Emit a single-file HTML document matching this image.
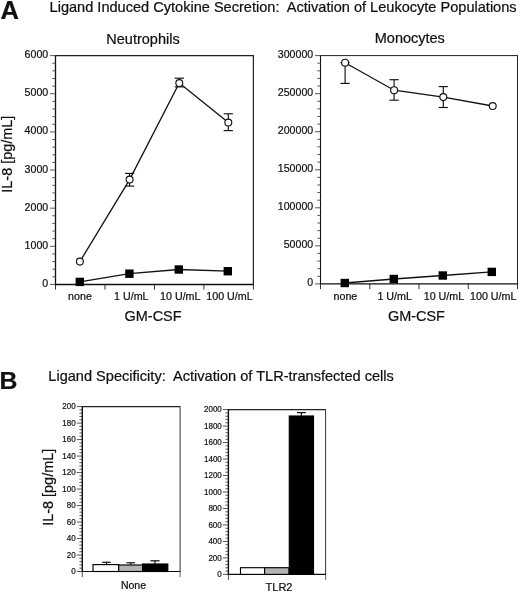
<!DOCTYPE html>
<html><head><meta charset="utf-8"><title>Figure</title>
<style>
html,body{margin:0;padding:0;background:#fff;}
body{width:520px;height:593px;overflow:hidden;}
svg{display:block;font-family:"Liberation Sans",sans-serif;fill:#111;}
text{stroke:#111;stroke-width:0.22px;}
</style></head><body>
<svg width="520" height="593" viewBox="0 0 520 593">
<rect x="0" y="0" width="520" height="593" fill="#fff" stroke="none"/>
<text x="0.5" y="18.6" font-size="25.5" text-anchor="start" font-weight="bold" stroke="#111" stroke-width="0.4">A</text>
<text x="49.6" y="11.8" font-size="14.5" text-anchor="start" font-weight="normal" style="white-space:pre" textLength="467" lengthAdjust="spacingAndGlyphs">Ligand Induced Cytokine Secretion:  Activation of Leukocyte Populations</text>
<text x="-0.6" y="388.7" font-size="24.8" text-anchor="start" font-weight="bold" stroke="#111" stroke-width="0.4">B</text>
<text x="48.3" y="381" font-size="14.5" text-anchor="start" font-weight="normal" style="white-space:pre" textLength="345.5" lengthAdjust="spacingAndGlyphs">Ligand Specificity:  Activation of TLR-transfected cells</text>
<line x1="55.5" y1="55.0" x2="55.5" y2="284.45" stroke="#111" stroke-width="1.3"/>
<line x1="253.4" y1="55.0" x2="253.4" y2="284.45" stroke="#222" stroke-width="1.2"/>
<line x1="55.5" y1="55.6" x2="253.4" y2="55.6" stroke="#222" stroke-width="1.2"/>
<line x1="50.0" y1="284.45" x2="55.5" y2="284.45" stroke="#444" stroke-width="0.9"/>
<text x="48.2" y="286.95" font-size="11.2" text-anchor="end" font-weight="normal"  textLength="5.9" lengthAdjust="spacingAndGlyphs">0</text>
<line x1="52.3" y1="276.82166666666666" x2="55.5" y2="276.82166666666666" stroke="#444" stroke-width="0.9"/>
<line x1="52.3" y1="269.1933333333333" x2="55.5" y2="269.1933333333333" stroke="#444" stroke-width="0.9"/>
<line x1="52.3" y1="261.565" x2="55.5" y2="261.565" stroke="#444" stroke-width="0.9"/>
<line x1="52.3" y1="253.93666666666667" x2="55.5" y2="253.93666666666667" stroke="#444" stroke-width="0.9"/>
<line x1="50.0" y1="246.30833333333334" x2="55.5" y2="246.30833333333334" stroke="#444" stroke-width="0.9"/>
<text x="48.2" y="248.80833333333334" font-size="11.2" text-anchor="end" font-weight="normal"  textLength="23.6" lengthAdjust="spacingAndGlyphs">1000</text>
<line x1="52.3" y1="238.68" x2="55.5" y2="238.68" stroke="#444" stroke-width="0.9"/>
<line x1="52.3" y1="231.05166666666668" x2="55.5" y2="231.05166666666668" stroke="#444" stroke-width="0.9"/>
<line x1="52.3" y1="223.42333333333335" x2="55.5" y2="223.42333333333335" stroke="#444" stroke-width="0.9"/>
<line x1="52.3" y1="215.79500000000002" x2="55.5" y2="215.79500000000002" stroke="#444" stroke-width="0.9"/>
<line x1="50.0" y1="208.16666666666666" x2="55.5" y2="208.16666666666666" stroke="#444" stroke-width="0.9"/>
<text x="48.2" y="210.66666666666666" font-size="11.2" text-anchor="end" font-weight="normal"  textLength="23.6" lengthAdjust="spacingAndGlyphs">2000</text>
<line x1="52.3" y1="200.53833333333333" x2="55.5" y2="200.53833333333333" stroke="#444" stroke-width="0.9"/>
<line x1="52.3" y1="192.91" x2="55.5" y2="192.91" stroke="#444" stroke-width="0.9"/>
<line x1="52.3" y1="185.28166666666667" x2="55.5" y2="185.28166666666667" stroke="#444" stroke-width="0.9"/>
<line x1="52.3" y1="177.65333333333334" x2="55.5" y2="177.65333333333334" stroke="#444" stroke-width="0.9"/>
<line x1="50.0" y1="170.02499999999998" x2="55.5" y2="170.02499999999998" stroke="#444" stroke-width="0.9"/>
<text x="48.2" y="172.52499999999998" font-size="11.2" text-anchor="end" font-weight="normal"  textLength="23.6" lengthAdjust="spacingAndGlyphs">3000</text>
<line x1="52.3" y1="162.39666666666665" x2="55.5" y2="162.39666666666665" stroke="#444" stroke-width="0.9"/>
<line x1="52.3" y1="154.76833333333332" x2="55.5" y2="154.76833333333332" stroke="#444" stroke-width="0.9"/>
<line x1="52.3" y1="147.14" x2="55.5" y2="147.14" stroke="#444" stroke-width="0.9"/>
<line x1="52.3" y1="139.51166666666666" x2="55.5" y2="139.51166666666666" stroke="#444" stroke-width="0.9"/>
<line x1="50.0" y1="131.88333333333333" x2="55.5" y2="131.88333333333333" stroke="#444" stroke-width="0.9"/>
<text x="48.2" y="134.38333333333333" font-size="11.2" text-anchor="end" font-weight="normal"  textLength="23.6" lengthAdjust="spacingAndGlyphs">4000</text>
<line x1="52.3" y1="124.255" x2="55.5" y2="124.255" stroke="#444" stroke-width="0.9"/>
<line x1="52.3" y1="116.62666666666667" x2="55.5" y2="116.62666666666667" stroke="#444" stroke-width="0.9"/>
<line x1="52.3" y1="108.99833333333333" x2="55.5" y2="108.99833333333333" stroke="#444" stroke-width="0.9"/>
<line x1="52.3" y1="101.36999999999999" x2="55.5" y2="101.36999999999999" stroke="#444" stroke-width="0.9"/>
<line x1="50.0" y1="93.74166666666667" x2="55.5" y2="93.74166666666667" stroke="#444" stroke-width="0.9"/>
<text x="48.2" y="96.24166666666667" font-size="11.2" text-anchor="end" font-weight="normal"  textLength="23.6" lengthAdjust="spacingAndGlyphs">5000</text>
<line x1="52.3" y1="86.11333333333334" x2="55.5" y2="86.11333333333334" stroke="#444" stroke-width="0.9"/>
<line x1="52.3" y1="78.48500000000001" x2="55.5" y2="78.48500000000001" stroke="#444" stroke-width="0.9"/>
<line x1="52.3" y1="70.85666666666668" x2="55.5" y2="70.85666666666668" stroke="#444" stroke-width="0.9"/>
<line x1="52.3" y1="63.22833333333334" x2="55.5" y2="63.22833333333334" stroke="#444" stroke-width="0.9"/>
<line x1="50.0" y1="55.599999999999994" x2="55.5" y2="55.599999999999994" stroke="#444" stroke-width="0.9"/>
<text x="48.2" y="58.099999999999994" font-size="11.2" text-anchor="end" font-weight="normal"  textLength="23.6" lengthAdjust="spacingAndGlyphs">6000</text>
<line x1="55.5" y1="284.45" x2="55.5" y2="289.65" stroke="#333" stroke-width="1"/>
<line x1="104.975" y1="284.45" x2="104.975" y2="289.65" stroke="#333" stroke-width="1"/>
<line x1="154.45" y1="284.45" x2="154.45" y2="289.65" stroke="#333" stroke-width="1"/>
<line x1="203.925" y1="284.45" x2="203.925" y2="289.65" stroke="#333" stroke-width="1"/>
<line x1="253.4" y1="284.45" x2="253.4" y2="289.65" stroke="#333" stroke-width="1"/>
<line x1="54.9" y1="284.45" x2="254.0" y2="284.45" stroke="#111" stroke-width="1.4"/>
<text x="79.9375" y="299.5" font-size="10.7" text-anchor="middle" font-weight="normal" >none</text>
<text x="131.31250000000003" y="299.5" font-size="10.7" text-anchor="middle" font-weight="normal" >1 U/mL</text>
<text x="180.28750000000002" y="299.5" font-size="10.7" text-anchor="middle" font-weight="normal" >10 U/mL</text>
<text x="229.4625" y="299.5" font-size="10.7" text-anchor="middle" font-weight="normal" >100 U/mL</text>
<polyline points="79.9,261.6 129.6,179.6 179.3,83 228.3,122.5" fill="none" stroke="#111" stroke-width="1.3"/>
<line x1="129.6" y1="173.4" x2="129.6" y2="186.1" stroke="#111" stroke-width="1.15"/>
<line x1="125.0" y1="173.4" x2="134.2" y2="173.4" stroke="#111" stroke-width="1.15"/>
<line x1="125.0" y1="186.1" x2="134.2" y2="186.1" stroke="#111" stroke-width="1.15"/>
<line x1="179.3" y1="78.2" x2="179.3" y2="86.9" stroke="#111" stroke-width="1.15"/>
<line x1="174.70000000000002" y1="78.2" x2="183.9" y2="78.2" stroke="#111" stroke-width="1.15"/>
<line x1="174.70000000000002" y1="86.9" x2="183.9" y2="86.9" stroke="#111" stroke-width="1.15"/>
<line x1="228.3" y1="113.8" x2="228.3" y2="130.6" stroke="#111" stroke-width="1.15"/>
<line x1="223.70000000000002" y1="113.8" x2="232.9" y2="113.8" stroke="#111" stroke-width="1.15"/>
<line x1="223.70000000000002" y1="130.6" x2="232.9" y2="130.6" stroke="#111" stroke-width="1.15"/>
<circle cx="79.9" cy="261.6" r="3.45" fill="#fff" stroke="#111" stroke-width="1.15"/>
<circle cx="129.6" cy="179.6" r="3.45" fill="#fff" stroke="#111" stroke-width="1.15"/>
<circle cx="179.3" cy="83" r="3.45" fill="#fff" stroke="#111" stroke-width="1.15"/>
<circle cx="228.3" cy="122.5" r="3.45" fill="#fff" stroke="#111" stroke-width="1.15"/>
<polyline points="79.8,281.9 129.4,273.7 178.8,269.5 227.8,271.2" fill="none" stroke="#111" stroke-width="1.3"/>
<rect x="75.6" y="277.7" width="8.4" height="8.4" fill="#000"/>
<rect x="125.2" y="269.5" width="8.4" height="8.4" fill="#000"/>
<rect x="174.60000000000002" y="265.3" width="8.4" height="8.4" fill="#000"/>
<rect x="223.60000000000002" y="267.0" width="8.4" height="8.4" fill="#000"/>
<text x="143" y="43.6" font-size="14.5" text-anchor="middle" font-weight="normal" >Neutrophils</text>
<text x="153.1" y="320.7" font-size="14.8" text-anchor="middle" font-weight="normal"  textLength="57" lengthAdjust="spacingAndGlyphs">GM-CSF</text>
<line x1="320.5" y1="55.1" x2="320.5" y2="283.9" stroke="#111" stroke-width="1.1"/>
<line x1="517.5" y1="55.1" x2="517.5" y2="283.9" stroke="#222" stroke-width="1.0"/>
<line x1="320.5" y1="55.6" x2="517.5" y2="55.6" stroke="#222" stroke-width="1.0"/>
<line x1="315.0" y1="283.9" x2="320.5" y2="283.9" stroke="#444" stroke-width="0.9"/>
<text x="313.2" y="286.4" font-size="11.2" text-anchor="end" font-weight="normal"  textLength="5.9" lengthAdjust="spacingAndGlyphs">0</text>
<line x1="317.3" y1="276.28999999999996" x2="320.5" y2="276.28999999999996" stroke="#444" stroke-width="0.9"/>
<line x1="317.3" y1="268.67999999999995" x2="320.5" y2="268.67999999999995" stroke="#444" stroke-width="0.9"/>
<line x1="317.3" y1="261.07" x2="320.5" y2="261.07" stroke="#444" stroke-width="0.9"/>
<line x1="317.3" y1="253.45999999999998" x2="320.5" y2="253.45999999999998" stroke="#444" stroke-width="0.9"/>
<line x1="315.0" y1="245.84999999999997" x2="320.5" y2="245.84999999999997" stroke="#444" stroke-width="0.9"/>
<text x="313.2" y="248.34999999999997" font-size="11.2" text-anchor="end" font-weight="normal"  textLength="29.5" lengthAdjust="spacingAndGlyphs">50000</text>
<line x1="317.3" y1="238.23999999999995" x2="320.5" y2="238.23999999999995" stroke="#444" stroke-width="0.9"/>
<line x1="317.3" y1="230.62999999999997" x2="320.5" y2="230.62999999999997" stroke="#444" stroke-width="0.9"/>
<line x1="317.3" y1="223.01999999999998" x2="320.5" y2="223.01999999999998" stroke="#444" stroke-width="0.9"/>
<line x1="317.3" y1="215.40999999999997" x2="320.5" y2="215.40999999999997" stroke="#444" stroke-width="0.9"/>
<line x1="315.0" y1="207.79999999999998" x2="320.5" y2="207.79999999999998" stroke="#444" stroke-width="0.9"/>
<text x="313.2" y="210.29999999999998" font-size="11.2" text-anchor="end" font-weight="normal"  textLength="35.4" lengthAdjust="spacingAndGlyphs">100000</text>
<line x1="317.3" y1="200.19" x2="320.5" y2="200.19" stroke="#444" stroke-width="0.9"/>
<line x1="317.3" y1="192.57999999999998" x2="320.5" y2="192.57999999999998" stroke="#444" stroke-width="0.9"/>
<line x1="317.3" y1="184.96999999999997" x2="320.5" y2="184.96999999999997" stroke="#444" stroke-width="0.9"/>
<line x1="317.3" y1="177.35999999999999" x2="320.5" y2="177.35999999999999" stroke="#444" stroke-width="0.9"/>
<line x1="315.0" y1="169.75" x2="320.5" y2="169.75" stroke="#444" stroke-width="0.9"/>
<text x="313.2" y="172.25" font-size="11.2" text-anchor="end" font-weight="normal"  textLength="35.4" lengthAdjust="spacingAndGlyphs">150000</text>
<line x1="317.3" y1="162.14" x2="320.5" y2="162.14" stroke="#444" stroke-width="0.9"/>
<line x1="317.3" y1="154.53" x2="320.5" y2="154.53" stroke="#444" stroke-width="0.9"/>
<line x1="317.3" y1="146.92000000000002" x2="320.5" y2="146.92000000000002" stroke="#444" stroke-width="0.9"/>
<line x1="317.3" y1="139.31" x2="320.5" y2="139.31" stroke="#444" stroke-width="0.9"/>
<line x1="315.0" y1="131.7" x2="320.5" y2="131.7" stroke="#444" stroke-width="0.9"/>
<text x="313.2" y="134.2" font-size="11.2" text-anchor="end" font-weight="normal"  textLength="35.4" lengthAdjust="spacingAndGlyphs">200000</text>
<line x1="317.3" y1="124.08999999999999" x2="320.5" y2="124.08999999999999" stroke="#444" stroke-width="0.9"/>
<line x1="317.3" y1="116.47999999999999" x2="320.5" y2="116.47999999999999" stroke="#444" stroke-width="0.9"/>
<line x1="317.3" y1="108.86999999999999" x2="320.5" y2="108.86999999999999" stroke="#444" stroke-width="0.9"/>
<line x1="317.3" y1="101.25999999999999" x2="320.5" y2="101.25999999999999" stroke="#444" stroke-width="0.9"/>
<line x1="315.0" y1="93.64999999999998" x2="320.5" y2="93.64999999999998" stroke="#444" stroke-width="0.9"/>
<text x="313.2" y="96.14999999999998" font-size="11.2" text-anchor="end" font-weight="normal"  textLength="35.4" lengthAdjust="spacingAndGlyphs">250000</text>
<line x1="317.3" y1="86.03999999999998" x2="320.5" y2="86.03999999999998" stroke="#444" stroke-width="0.9"/>
<line x1="317.3" y1="78.42999999999998" x2="320.5" y2="78.42999999999998" stroke="#444" stroke-width="0.9"/>
<line x1="317.3" y1="70.81999999999998" x2="320.5" y2="70.81999999999998" stroke="#444" stroke-width="0.9"/>
<line x1="317.3" y1="63.20999999999998" x2="320.5" y2="63.20999999999998" stroke="#444" stroke-width="0.9"/>
<line x1="315.0" y1="55.599999999999994" x2="320.5" y2="55.599999999999994" stroke="#444" stroke-width="0.9"/>
<text x="313.2" y="58.099999999999994" font-size="11.2" text-anchor="end" font-weight="normal"  textLength="35.4" lengthAdjust="spacingAndGlyphs">300000</text>
<line x1="320.5" y1="283.9" x2="320.5" y2="289.09999999999997" stroke="#333" stroke-width="1"/>
<line x1="369.75" y1="283.9" x2="369.75" y2="289.09999999999997" stroke="#333" stroke-width="1"/>
<line x1="419.0" y1="283.9" x2="419.0" y2="289.09999999999997" stroke="#333" stroke-width="1"/>
<line x1="468.25" y1="283.9" x2="468.25" y2="289.09999999999997" stroke="#333" stroke-width="1"/>
<line x1="517.5" y1="283.9" x2="517.5" y2="289.09999999999997" stroke="#333" stroke-width="1"/>
<line x1="319.9" y1="283.9" x2="518.1" y2="283.9" stroke="#111" stroke-width="1.4"/>
<text x="345.425" y="299.5" font-size="10.7" text-anchor="middle" font-weight="normal" >none</text>
<text x="394.675" y="299.5" font-size="10.7" text-anchor="middle" font-weight="normal" >1 U/mL</text>
<text x="443.925" y="299.5" font-size="10.7" text-anchor="middle" font-weight="normal" >10 U/mL</text>
<text x="493.175" y="299.5" font-size="10.7" text-anchor="middle" font-weight="normal" >100 U/mL</text>
<polyline points="345.1,62.7 394.1,90.2 443.3,97.1 492.7,106" fill="none" stroke="#111" stroke-width="1.3"/>
<line x1="345.1" y1="62.7" x2="345.1" y2="83.4" stroke="#111" stroke-width="1.15"/>
<line x1="340.5" y1="62.7" x2="349.70000000000005" y2="62.7" stroke="#111" stroke-width="1.15"/>
<line x1="340.5" y1="83.4" x2="349.70000000000005" y2="83.4" stroke="#111" stroke-width="1.15"/>
<line x1="394.1" y1="79.7" x2="394.1" y2="100.2" stroke="#111" stroke-width="1.15"/>
<line x1="389.5" y1="79.7" x2="398.70000000000005" y2="79.7" stroke="#111" stroke-width="1.15"/>
<line x1="389.5" y1="100.2" x2="398.70000000000005" y2="100.2" stroke="#111" stroke-width="1.15"/>
<line x1="443.3" y1="86.6" x2="443.3" y2="107.5" stroke="#111" stroke-width="1.15"/>
<line x1="438.7" y1="86.6" x2="447.90000000000003" y2="86.6" stroke="#111" stroke-width="1.15"/>
<line x1="438.7" y1="107.5" x2="447.90000000000003" y2="107.5" stroke="#111" stroke-width="1.15"/>
<circle cx="345.1" cy="62.7" r="3.45" fill="#fff" stroke="#111" stroke-width="1.15"/>
<circle cx="394.1" cy="90.2" r="3.45" fill="#fff" stroke="#111" stroke-width="1.15"/>
<circle cx="443.3" cy="97.1" r="3.45" fill="#fff" stroke="#111" stroke-width="1.15"/>
<circle cx="492.7" cy="106" r="3.45" fill="#fff" stroke="#111" stroke-width="1.15"/>
<polyline points="344.8,283 393.8,279 442.8,275.5 491.8,271.9" fill="none" stroke="#111" stroke-width="1.3"/>
<rect x="340.6" y="278.8" width="8.4" height="8.4" fill="#000"/>
<rect x="389.6" y="274.8" width="8.4" height="8.4" fill="#000"/>
<rect x="438.6" y="271.3" width="8.4" height="8.4" fill="#000"/>
<rect x="487.6" y="267.7" width="8.4" height="8.4" fill="#000"/>
<text x="409.8" y="43.4" font-size="14.5" text-anchor="middle" font-weight="normal" >Monocytes</text>
<text x="416.4" y="320.5" font-size="14.8" text-anchor="middle" font-weight="normal"  textLength="57" lengthAdjust="spacingAndGlyphs">GM-CSF</text>
<text transform="translate(11.5,154.2) rotate(-90)" font-size="14.8" text-anchor="middle" textLength="77" lengthAdjust="spacingAndGlyphs">IL-8 [pg/mL]</text>
<line x1="82.3" y1="406.6" x2="180.1" y2="406.6" stroke="#222" stroke-width="1.1"/>
<line x1="180.1" y1="406.1" x2="180.1" y2="571.5" stroke="#333" stroke-width="1.0"/>
<line x1="76.8" y1="571.5" x2="82.3" y2="571.5" stroke="#444" stroke-width="0.9"/>
<text x="75.7" y="574.1" font-size="9" text-anchor="end" font-weight="normal"  textLength="4.5" lengthAdjust="spacingAndGlyphs">0</text>
<line x1="79.39999999999999" y1="568.202" x2="82.3" y2="568.202" stroke="#333" stroke-width="0.8"/>
<line x1="79.39999999999999" y1="564.904" x2="82.3" y2="564.904" stroke="#333" stroke-width="0.8"/>
<line x1="79.39999999999999" y1="561.606" x2="82.3" y2="561.606" stroke="#333" stroke-width="0.8"/>
<line x1="79.39999999999999" y1="558.308" x2="82.3" y2="558.308" stroke="#333" stroke-width="0.8"/>
<line x1="76.8" y1="555.01" x2="82.3" y2="555.01" stroke="#444" stroke-width="0.9"/>
<text x="75.7" y="557.61" font-size="9" text-anchor="end" font-weight="normal"  textLength="8.9" lengthAdjust="spacingAndGlyphs">20</text>
<line x1="79.39999999999999" y1="551.712" x2="82.3" y2="551.712" stroke="#333" stroke-width="0.8"/>
<line x1="79.39999999999999" y1="548.414" x2="82.3" y2="548.414" stroke="#333" stroke-width="0.8"/>
<line x1="79.39999999999999" y1="545.116" x2="82.3" y2="545.116" stroke="#333" stroke-width="0.8"/>
<line x1="79.39999999999999" y1="541.818" x2="82.3" y2="541.818" stroke="#333" stroke-width="0.8"/>
<line x1="76.8" y1="538.52" x2="82.3" y2="538.52" stroke="#444" stroke-width="0.9"/>
<text x="75.7" y="541.12" font-size="9" text-anchor="end" font-weight="normal"  textLength="8.9" lengthAdjust="spacingAndGlyphs">40</text>
<line x1="79.39999999999999" y1="535.222" x2="82.3" y2="535.222" stroke="#333" stroke-width="0.8"/>
<line x1="79.39999999999999" y1="531.924" x2="82.3" y2="531.924" stroke="#333" stroke-width="0.8"/>
<line x1="79.39999999999999" y1="528.626" x2="82.3" y2="528.626" stroke="#333" stroke-width="0.8"/>
<line x1="79.39999999999999" y1="525.328" x2="82.3" y2="525.328" stroke="#333" stroke-width="0.8"/>
<line x1="76.8" y1="522.03" x2="82.3" y2="522.03" stroke="#444" stroke-width="0.9"/>
<text x="75.7" y="524.63" font-size="9" text-anchor="end" font-weight="normal"  textLength="8.9" lengthAdjust="spacingAndGlyphs">60</text>
<line x1="79.39999999999999" y1="518.732" x2="82.3" y2="518.732" stroke="#333" stroke-width="0.8"/>
<line x1="79.39999999999999" y1="515.434" x2="82.3" y2="515.434" stroke="#333" stroke-width="0.8"/>
<line x1="79.39999999999999" y1="512.136" x2="82.3" y2="512.136" stroke="#333" stroke-width="0.8"/>
<line x1="79.39999999999999" y1="508.83799999999997" x2="82.3" y2="508.83799999999997" stroke="#333" stroke-width="0.8"/>
<line x1="76.8" y1="505.54" x2="82.3" y2="505.54" stroke="#444" stroke-width="0.9"/>
<text x="75.7" y="508.14000000000004" font-size="9" text-anchor="end" font-weight="normal"  textLength="8.9" lengthAdjust="spacingAndGlyphs">80</text>
<line x1="79.39999999999999" y1="502.242" x2="82.3" y2="502.242" stroke="#333" stroke-width="0.8"/>
<line x1="79.39999999999999" y1="498.944" x2="82.3" y2="498.944" stroke="#333" stroke-width="0.8"/>
<line x1="79.39999999999999" y1="495.646" x2="82.3" y2="495.646" stroke="#333" stroke-width="0.8"/>
<line x1="79.39999999999999" y1="492.348" x2="82.3" y2="492.348" stroke="#333" stroke-width="0.8"/>
<line x1="76.8" y1="489.05" x2="82.3" y2="489.05" stroke="#444" stroke-width="0.9"/>
<text x="75.7" y="491.65000000000003" font-size="9" text-anchor="end" font-weight="normal"  textLength="13.4" lengthAdjust="spacingAndGlyphs">100</text>
<line x1="79.39999999999999" y1="485.752" x2="82.3" y2="485.752" stroke="#333" stroke-width="0.8"/>
<line x1="79.39999999999999" y1="482.454" x2="82.3" y2="482.454" stroke="#333" stroke-width="0.8"/>
<line x1="79.39999999999999" y1="479.156" x2="82.3" y2="479.156" stroke="#333" stroke-width="0.8"/>
<line x1="79.39999999999999" y1="475.858" x2="82.3" y2="475.858" stroke="#333" stroke-width="0.8"/>
<line x1="76.8" y1="472.56" x2="82.3" y2="472.56" stroke="#444" stroke-width="0.9"/>
<text x="75.7" y="475.16" font-size="9" text-anchor="end" font-weight="normal"  textLength="13.4" lengthAdjust="spacingAndGlyphs">120</text>
<line x1="79.39999999999999" y1="469.262" x2="82.3" y2="469.262" stroke="#333" stroke-width="0.8"/>
<line x1="79.39999999999999" y1="465.964" x2="82.3" y2="465.964" stroke="#333" stroke-width="0.8"/>
<line x1="79.39999999999999" y1="462.666" x2="82.3" y2="462.666" stroke="#333" stroke-width="0.8"/>
<line x1="79.39999999999999" y1="459.368" x2="82.3" y2="459.368" stroke="#333" stroke-width="0.8"/>
<line x1="76.8" y1="456.07" x2="82.3" y2="456.07" stroke="#444" stroke-width="0.9"/>
<text x="75.7" y="458.67" font-size="9" text-anchor="end" font-weight="normal"  textLength="13.4" lengthAdjust="spacingAndGlyphs">140</text>
<line x1="79.39999999999999" y1="452.772" x2="82.3" y2="452.772" stroke="#333" stroke-width="0.8"/>
<line x1="79.39999999999999" y1="449.474" x2="82.3" y2="449.474" stroke="#333" stroke-width="0.8"/>
<line x1="79.39999999999999" y1="446.176" x2="82.3" y2="446.176" stroke="#333" stroke-width="0.8"/>
<line x1="79.39999999999999" y1="442.878" x2="82.3" y2="442.878" stroke="#333" stroke-width="0.8"/>
<line x1="76.8" y1="439.58000000000004" x2="82.3" y2="439.58000000000004" stroke="#444" stroke-width="0.9"/>
<text x="75.7" y="442.18000000000006" font-size="9" text-anchor="end" font-weight="normal"  textLength="13.4" lengthAdjust="spacingAndGlyphs">160</text>
<line x1="79.39999999999999" y1="436.28200000000004" x2="82.3" y2="436.28200000000004" stroke="#333" stroke-width="0.8"/>
<line x1="79.39999999999999" y1="432.98400000000004" x2="82.3" y2="432.98400000000004" stroke="#333" stroke-width="0.8"/>
<line x1="79.39999999999999" y1="429.68600000000004" x2="82.3" y2="429.68600000000004" stroke="#333" stroke-width="0.8"/>
<line x1="79.39999999999999" y1="426.38800000000003" x2="82.3" y2="426.38800000000003" stroke="#333" stroke-width="0.8"/>
<line x1="76.8" y1="423.09000000000003" x2="82.3" y2="423.09000000000003" stroke="#444" stroke-width="0.9"/>
<text x="75.7" y="425.69000000000005" font-size="9" text-anchor="end" font-weight="normal"  textLength="13.4" lengthAdjust="spacingAndGlyphs">180</text>
<line x1="79.39999999999999" y1="419.79200000000003" x2="82.3" y2="419.79200000000003" stroke="#333" stroke-width="0.8"/>
<line x1="79.39999999999999" y1="416.494" x2="82.3" y2="416.494" stroke="#333" stroke-width="0.8"/>
<line x1="79.39999999999999" y1="413.196" x2="82.3" y2="413.196" stroke="#333" stroke-width="0.8"/>
<line x1="79.39999999999999" y1="409.898" x2="82.3" y2="409.898" stroke="#333" stroke-width="0.8"/>
<line x1="76.8" y1="406.6" x2="82.3" y2="406.6" stroke="#444" stroke-width="0.9"/>
<text x="75.7" y="409.20000000000005" font-size="9" text-anchor="end" font-weight="normal"  textLength="13.4" lengthAdjust="spacingAndGlyphs">200</text>
<line x1="82.3" y1="406.1" x2="82.3" y2="571.5" stroke="#111" stroke-width="1.4"/>
<line x1="82.3" y1="571.5" x2="82.3" y2="577.1" stroke="#555" stroke-width="1.0"/>
<line x1="180.1" y1="571.5" x2="180.1" y2="577.1" stroke="#555" stroke-width="0.9"/>
<line x1="81.6" y1="571.5" x2="180.5" y2="571.5" stroke="#111" stroke-width="1.2"/>
<rect x="93" y="564.6" width="25.700000000000003" height="6.899999999999977" fill="#fff" stroke="#000" stroke-width="1.15"/>
<rect x="118.7" y="565" width="23.89999999999999" height="6.5" fill="#b4b4b4" stroke="#000" stroke-width="1.15"/>
<rect x="142.6" y="564" width="25.200000000000017" height="7.5" fill="#000" stroke="#000" stroke-width="1.15"/>
<line x1="106.5" y1="562.3" x2="106.5" y2="564.6" stroke="#111" stroke-width="1.15"/>
<line x1="102.2" y1="562.3" x2="110.8" y2="562.3" stroke="#111" stroke-width="1.2"/>
<line x1="130.8" y1="562.8" x2="130.8" y2="565" stroke="#111" stroke-width="1.15"/>
<line x1="126.50000000000001" y1="562.8" x2="135.10000000000002" y2="562.8" stroke="#111" stroke-width="1.2"/>
<line x1="155" y1="560.8" x2="155" y2="564" stroke="#111" stroke-width="1.15"/>
<line x1="150.4" y1="560.8" x2="159.6" y2="560.8" stroke="#111" stroke-width="1.2"/>
<text x="133.5" y="589.4" font-size="10.5" text-anchor="middle" font-weight="normal" >None</text>
<line x1="228.4" y1="409.6" x2="325.6" y2="409.6" stroke="#222" stroke-width="1.1"/>
<line x1="325.6" y1="409.1" x2="325.6" y2="574.4" stroke="#333" stroke-width="1.0"/>
<line x1="222.9" y1="574.4" x2="228.4" y2="574.4" stroke="#444" stroke-width="0.9"/>
<text x="221.8" y="577.0" font-size="9" text-anchor="end" font-weight="normal"  textLength="4.5" lengthAdjust="spacingAndGlyphs">0</text>
<line x1="225.5" y1="571.1039999999999" x2="228.4" y2="571.1039999999999" stroke="#333" stroke-width="0.8"/>
<line x1="225.5" y1="567.808" x2="228.4" y2="567.808" stroke="#333" stroke-width="0.8"/>
<line x1="225.5" y1="564.512" x2="228.4" y2="564.512" stroke="#333" stroke-width="0.8"/>
<line x1="225.5" y1="561.216" x2="228.4" y2="561.216" stroke="#333" stroke-width="0.8"/>
<line x1="222.9" y1="557.92" x2="228.4" y2="557.92" stroke="#444" stroke-width="0.9"/>
<text x="221.8" y="560.52" font-size="9" text-anchor="end" font-weight="normal"  textLength="13.4" lengthAdjust="spacingAndGlyphs">200</text>
<line x1="225.5" y1="554.6239999999999" x2="228.4" y2="554.6239999999999" stroke="#333" stroke-width="0.8"/>
<line x1="225.5" y1="551.328" x2="228.4" y2="551.328" stroke="#333" stroke-width="0.8"/>
<line x1="225.5" y1="548.0319999999999" x2="228.4" y2="548.0319999999999" stroke="#333" stroke-width="0.8"/>
<line x1="225.5" y1="544.736" x2="228.4" y2="544.736" stroke="#333" stroke-width="0.8"/>
<line x1="222.9" y1="541.4399999999999" x2="228.4" y2="541.4399999999999" stroke="#444" stroke-width="0.9"/>
<text x="221.8" y="544.04" font-size="9" text-anchor="end" font-weight="normal"  textLength="13.4" lengthAdjust="spacingAndGlyphs">400</text>
<line x1="225.5" y1="538.1439999999999" x2="228.4" y2="538.1439999999999" stroke="#333" stroke-width="0.8"/>
<line x1="225.5" y1="534.848" x2="228.4" y2="534.848" stroke="#333" stroke-width="0.8"/>
<line x1="225.5" y1="531.5519999999999" x2="228.4" y2="531.5519999999999" stroke="#333" stroke-width="0.8"/>
<line x1="225.5" y1="528.256" x2="228.4" y2="528.256" stroke="#333" stroke-width="0.8"/>
<line x1="222.9" y1="524.96" x2="228.4" y2="524.96" stroke="#444" stroke-width="0.9"/>
<text x="221.8" y="527.5600000000001" font-size="9" text-anchor="end" font-weight="normal"  textLength="13.4" lengthAdjust="spacingAndGlyphs">600</text>
<line x1="225.5" y1="521.664" x2="228.4" y2="521.664" stroke="#333" stroke-width="0.8"/>
<line x1="225.5" y1="518.368" x2="228.4" y2="518.368" stroke="#333" stroke-width="0.8"/>
<line x1="225.5" y1="515.072" x2="228.4" y2="515.072" stroke="#333" stroke-width="0.8"/>
<line x1="225.5" y1="511.77600000000007" x2="228.4" y2="511.77600000000007" stroke="#333" stroke-width="0.8"/>
<line x1="222.9" y1="508.48" x2="228.4" y2="508.48" stroke="#444" stroke-width="0.9"/>
<text x="221.8" y="511.08000000000004" font-size="9" text-anchor="end" font-weight="normal"  textLength="13.4" lengthAdjust="spacingAndGlyphs">800</text>
<line x1="225.5" y1="505.184" x2="228.4" y2="505.184" stroke="#333" stroke-width="0.8"/>
<line x1="225.5" y1="501.88800000000003" x2="228.4" y2="501.88800000000003" stroke="#333" stroke-width="0.8"/>
<line x1="225.5" y1="498.59200000000004" x2="228.4" y2="498.59200000000004" stroke="#333" stroke-width="0.8"/>
<line x1="225.5" y1="495.29600000000005" x2="228.4" y2="495.29600000000005" stroke="#333" stroke-width="0.8"/>
<line x1="222.9" y1="492.0" x2="228.4" y2="492.0" stroke="#444" stroke-width="0.9"/>
<text x="221.8" y="494.6" font-size="9" text-anchor="end" font-weight="normal"  textLength="17.8" lengthAdjust="spacingAndGlyphs">1000</text>
<line x1="225.5" y1="488.704" x2="228.4" y2="488.704" stroke="#333" stroke-width="0.8"/>
<line x1="225.5" y1="485.408" x2="228.4" y2="485.408" stroke="#333" stroke-width="0.8"/>
<line x1="225.5" y1="482.112" x2="228.4" y2="482.112" stroke="#333" stroke-width="0.8"/>
<line x1="225.5" y1="478.81600000000003" x2="228.4" y2="478.81600000000003" stroke="#333" stroke-width="0.8"/>
<line x1="222.9" y1="475.52" x2="228.4" y2="475.52" stroke="#444" stroke-width="0.9"/>
<text x="221.8" y="478.12" font-size="9" text-anchor="end" font-weight="normal"  textLength="17.8" lengthAdjust="spacingAndGlyphs">1200</text>
<line x1="225.5" y1="472.224" x2="228.4" y2="472.224" stroke="#333" stroke-width="0.8"/>
<line x1="225.5" y1="468.928" x2="228.4" y2="468.928" stroke="#333" stroke-width="0.8"/>
<line x1="225.5" y1="465.632" x2="228.4" y2="465.632" stroke="#333" stroke-width="0.8"/>
<line x1="225.5" y1="462.336" x2="228.4" y2="462.336" stroke="#333" stroke-width="0.8"/>
<line x1="222.9" y1="459.03999999999996" x2="228.4" y2="459.03999999999996" stroke="#444" stroke-width="0.9"/>
<text x="221.8" y="461.64" font-size="9" text-anchor="end" font-weight="normal"  textLength="17.8" lengthAdjust="spacingAndGlyphs">1400</text>
<line x1="225.5" y1="455.74399999999997" x2="228.4" y2="455.74399999999997" stroke="#333" stroke-width="0.8"/>
<line x1="225.5" y1="452.448" x2="228.4" y2="452.448" stroke="#333" stroke-width="0.8"/>
<line x1="225.5" y1="449.152" x2="228.4" y2="449.152" stroke="#333" stroke-width="0.8"/>
<line x1="225.5" y1="445.856" x2="228.4" y2="445.856" stroke="#333" stroke-width="0.8"/>
<line x1="222.9" y1="442.56" x2="228.4" y2="442.56" stroke="#444" stroke-width="0.9"/>
<text x="221.8" y="445.16" font-size="9" text-anchor="end" font-weight="normal"  textLength="17.8" lengthAdjust="spacingAndGlyphs">1600</text>
<line x1="225.5" y1="439.264" x2="228.4" y2="439.264" stroke="#333" stroke-width="0.8"/>
<line x1="225.5" y1="435.968" x2="228.4" y2="435.968" stroke="#333" stroke-width="0.8"/>
<line x1="225.5" y1="432.672" x2="228.4" y2="432.672" stroke="#333" stroke-width="0.8"/>
<line x1="225.5" y1="429.376" x2="228.4" y2="429.376" stroke="#333" stroke-width="0.8"/>
<line x1="222.9" y1="426.08000000000004" x2="228.4" y2="426.08000000000004" stroke="#444" stroke-width="0.9"/>
<text x="221.8" y="428.68000000000006" font-size="9" text-anchor="end" font-weight="normal"  textLength="17.8" lengthAdjust="spacingAndGlyphs">1800</text>
<line x1="225.5" y1="422.78400000000005" x2="228.4" y2="422.78400000000005" stroke="#333" stroke-width="0.8"/>
<line x1="225.5" y1="419.48800000000006" x2="228.4" y2="419.48800000000006" stroke="#333" stroke-width="0.8"/>
<line x1="225.5" y1="416.19200000000006" x2="228.4" y2="416.19200000000006" stroke="#333" stroke-width="0.8"/>
<line x1="225.5" y1="412.8960000000001" x2="228.4" y2="412.8960000000001" stroke="#333" stroke-width="0.8"/>
<line x1="222.9" y1="409.6" x2="228.4" y2="409.6" stroke="#444" stroke-width="0.9"/>
<text x="221.8" y="412.20000000000005" font-size="9" text-anchor="end" font-weight="normal"  textLength="17.8" lengthAdjust="spacingAndGlyphs">2000</text>
<line x1="228.4" y1="409.1" x2="228.4" y2="574.4" stroke="#111" stroke-width="1.4"/>
<line x1="228.4" y1="574.4" x2="228.4" y2="580.0" stroke="#555" stroke-width="1.0"/>
<line x1="325.6" y1="574.4" x2="325.6" y2="580.0" stroke="#555" stroke-width="0.9"/>
<line x1="227.70000000000002" y1="574.4" x2="326.0" y2="574.4" stroke="#111" stroke-width="1.2"/>
<rect x="240.5" y="567.7" width="24.100000000000023" height="6.699999999999932" fill="#fff" stroke="#000" stroke-width="1.15"/>
<rect x="264.6" y="567.7" width="24.399999999999977" height="6.699999999999932" fill="#b4b4b4" stroke="#000" stroke-width="1.15"/>
<rect x="289.3" y="416" width="24.19999999999999" height="158.39999999999998" fill="#000" stroke="#000" stroke-width="1.15"/>
<line x1="301.4" y1="412.6" x2="301.4" y2="416" stroke="#111" stroke-width="1.15"/>
<line x1="297.0" y1="412.6" x2="305.79999999999995" y2="412.6" stroke="#111" stroke-width="1.2"/>
<text x="279" y="591" font-size="11" text-anchor="middle" font-weight="normal" >TLR2</text>
<text transform="translate(53.3,487.3) rotate(-90)" font-size="14.8" text-anchor="middle" textLength="77" lengthAdjust="spacingAndGlyphs">IL-8 [pg/mL]</text>
</svg>
</body></html>
